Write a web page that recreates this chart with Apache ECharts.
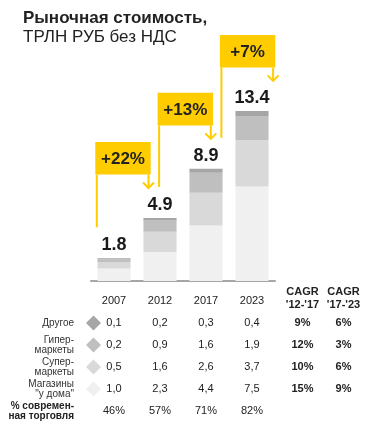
<!DOCTYPE html>
<html>
<head>
<meta charset="utf-8">
<script src="https://cdn.jsdelivr.net/npm/echarts@6/dist/echarts.min.js"></script>
<style>
html,body{margin:0;padding:0;background:#fff;}
#c{width:374px;height:439px;}
</style>
</head>
<body>
<div id="c"></div>
<script>
const years = ['2007', '2012', '2017', '2023'];
const other = [0.1, 0.2, 0.3, 0.4];
const hyper = [0.2, 0.9, 1.6, 1.9];
const superm = [0.5, 1.6, 2.6, 3.7];
const convenience = [1.0, 2.3, 4.4, 7.5];
const totals = [1.8, 4.9, 8.9, 13.4];
const growth = ['+22%', '+13%', '+7%'];
const modernShare = ['46%', '57%', '71%', '82%'];
const cagr1217 = ['9%', '12%', '10%', '15%'];
const cagr1723 = ['6%', '3%', '6%', '9%'];
const rowLabels = ['Другое', 'Гипер-\nмаркеты', 'Супер-\nмаркеты', 'Магазины\n"у дома"'];
const shareLabel = '% современ-\nная торговля';
const cagrHeaders = ["CAGR\n'12-'17", "CAGR\n'17-'23"];

const FONT = '"Liberation Sans", Arial, sans-serif';
const colors = { conv: '#f0f0f0', sup: '#d9d9d9', hyp: '#bfbfbf', oth: '#a6a6a6' };
const YELLOW = '#FFCC00';
const TXT = '#222222';
const GRID = { left: 91, right: 99, top: 29, bottom: 158 };

const chart = echarts.init(document.getElementById('c'), null, { renderer: 'canvas' });

const barBase = { type: 'bar', stack: 'total', barWidth: '72%', emphasis: { disabled: true } };

chart.setOption({
  animation: false,
  backgroundColor: '#ffffff',
  textStyle: { fontFamily: FONT },
  title: {
    left: 18, top: 4,
    text: '{a|Рыночная стоимость,}\n{b|ТРЛН РУБ без НДС}',
    textStyle: {
      rich: {
        a: { fontSize: 17, fontWeight: 'bold', color: TXT, fontFamily: FONT, lineHeight: 19 },
        b: { fontSize: 17, fontWeight: 'normal', color: TXT, fontFamily: FONT, lineHeight: 19 }
      }
    }
  },
  grid: GRID,
  xAxis: {
    type: 'category', data: years,
    axisLine: { lineStyle: { color: '#a6a6a6', width: 2 } },
    axisTick: { show: false },
    axisLabel: { margin: 14, fontSize: 11, color: TXT, fontFamily: FONT }
  },
  yAxis: { type: 'value', min: 0, max: 20, show: false, splitLine: { show: false } },
  series: [
    Object.assign({}, barBase, { name: 'Магазины "у дома"', data: convenience, itemStyle: { color: colors.conv } }),
    Object.assign({}, barBase, { name: 'Супермаркеты', data: superm, itemStyle: { color: colors.sup } }),
    Object.assign({}, barBase, { name: 'Гипермаркеты', data: hyper, itemStyle: { color: colors.hyp } }),
    Object.assign({}, barBase, {
      name: 'Другое', data: other, itemStyle: { color: colors.oth },
      label: {
        show: true, position: 'top', distance: 4,
        formatter: p => totals[p.dataIndex].toFixed(1),
        fontSize: 18, fontWeight: 'bold', color: '#1a1a1a', fontFamily: FONT
      }
    })
  ]
});

// ---- annotations & table, anchored to the chart's scales ----
const gx = i => chart.convertToPixel({ xAxisIndex: 0 }, years[i]);
const gy = v => chart.convertToPixel({ yAxisIndex: 0 }, v);
const stackTop = years.map((_, i) => convenience[i] + superm[i] + hyper[i] + other[i]);
const fmt = v => v.toFixed(1).replace('.', ',');

const g = [];
function text(t, x, y, opt) {
  g.push({
    type: 'text', silent: true,
    style: Object.assign({
      text: t, x: x, y: y, fill: TXT, fontSize: 11, fontFamily: FONT,
      align: 'center', verticalAlign: 'middle'
    }, opt || {})
  });
}
function line(x1, y1, x2, y2) {
  g.push({ type: 'line', silent: true, shape: { x1, y1, x2, y2 }, style: { stroke: YELLOW, lineWidth: 2 } });
}

// growth callouts
growth.forEach((gtxt, i) => {
  const prevTop = gy(stackTop[i]);
  const nextTop = gy(stackTop[i + 1]);
  const boxW = 55.4, boxH = 32.6;
  const boxL = GRID.left + 4.3 + i * 62.3;
  const boxT = nextTop - 76;
  g.push({ type: 'rect', silent: true, shape: { x: boxL, y: boxT, width: boxW, height: boxH }, style: { fill: YELLOW } });
  text(gtxt, boxL + boxW / 2, boxT + boxH / 2 + 1, { fontSize: 17, fontWeight: 'bold', fill: TXT });
  const lx = boxL + 1.5;
  line(lx, boxT + boxH, lx, prevTop - 31);
  const rx = boxL + boxW - 2.2;
  const tip = nextTop - 30;
  line(rx, boxT + boxH, rx, tip);
  g.push({
    type: 'polyline', silent: true,
    shape: { points: [[rx - 5.5, tip - 5.5], [rx, tip], [rx + 5.5, tip - 5.5]] },
    style: { stroke: YELLOW, lineWidth: 2, fill: null }
  });
});

// table
const labelX = 74;
const diamondX = 93.5;
const cagrX = [GRID.left + 184 + 27.5, GRID.left + 184 + 68.5];
const rowY = [323, 345, 367, 389, 411];
const rowColors = [colors.oth, colors.hyp, colors.sup, colors.conv];
const rowData = [other, hyper, superm, convenience];

cagrHeaders.forEach((h, k) => text(h, cagrX[k], 298, { fontWeight: 'bold', lineHeight: 13 }));

rowLabels.forEach((lab, r) => {
  const y = rowY[r];
  text(lab, labelX, y, { align: 'right', fontSize: 10, lineHeight: 10.5, fill: '#333333' });
  const d = 7.5;
  g.push({
    type: 'polygon', silent: true,
    shape: { points: [[diamondX, y - d], [diamondX + d, y], [diamondX, y + d], [diamondX - d, y]] },
    style: { fill: rowColors[r] }
  });
  rowData[r].forEach((v, i) => text(fmt(v), gx(i), y));
  text(cagr1217[r], cagrX[0], y, { fontWeight: 'bold' });
  text(cagr1723[r], cagrX[1], y, { fontWeight: 'bold' });
});

text(shareLabel, labelX, rowY[4], { align: 'right', fontSize: 10, lineHeight: 10.5, fontWeight: 'bold', fill: '#222222' });
modernShare.forEach((s, i) => text(s, gx(i), rowY[4]));

chart.setOption({ graphic: { elements: g } });
</script>
</body>
</html>
